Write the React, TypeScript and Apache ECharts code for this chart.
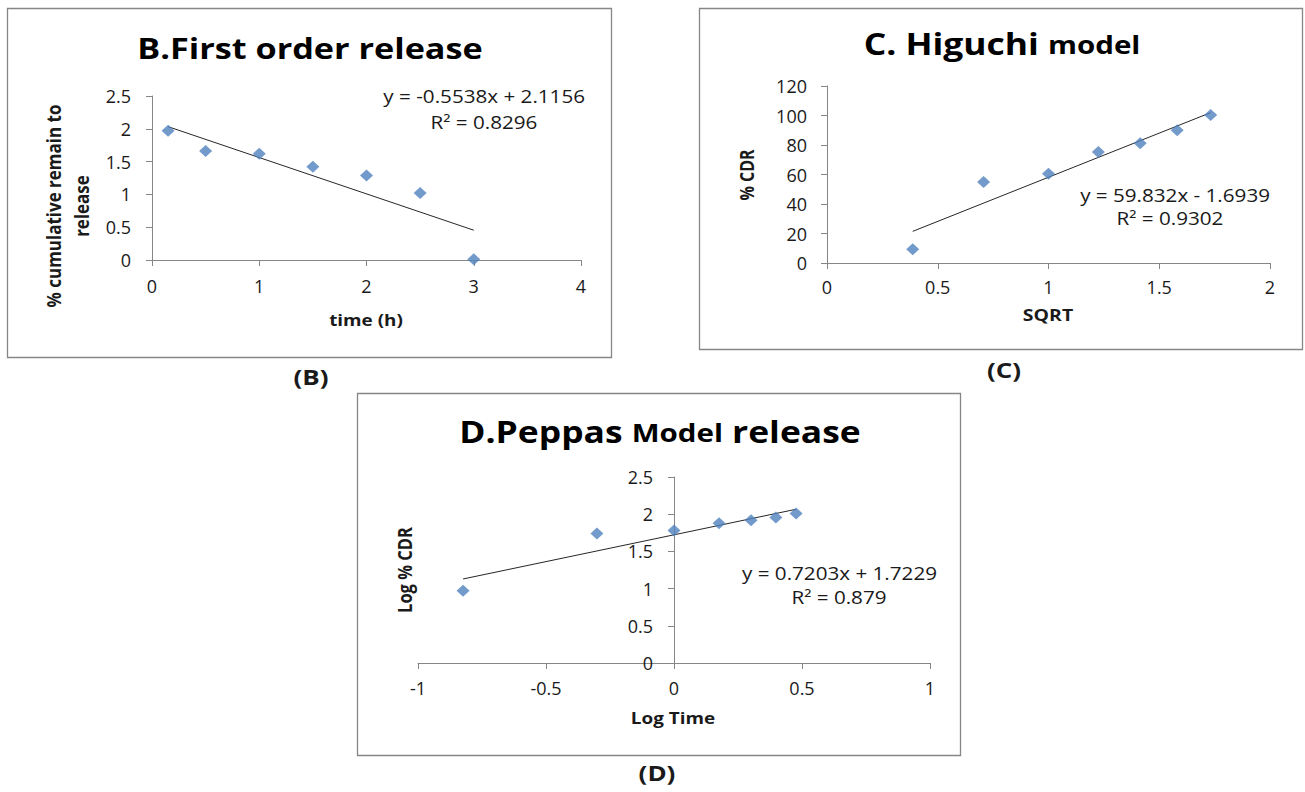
import React, { useEffect, useRef } from "react";
import * as echarts from "echarts";

// ---- Data ----
// B. First order release
const timeH = [0.15, 0.5, 1, 1.5, 2, 2.5, 3];
const logRemain = [1.97, 1.66, 1.62, 1.42, 1.29, 1.02, 0.01];
const fitB = [-0.5538, 2.1156];
const r2B = "0.8296";
const xTicksB = [0, 4, 1];
const yTicksB = [0, 2.5, 0.5];

// C. Higuchi model
const sqrtT = [0.387, 0.707, 1, 1.225, 1.414, 1.581, 1.732];
const cdr = [9.4, 55, 60.5, 75.2, 81.2, 90, 100.3];
const fitC = [59.832, -1.6939];
const r2C = "0.9302";
const xTicksC = [0, 2, 0.5];
const yTicksC = [0, 120, 20];

// D. Peppas model
const logTime = [-0.824, -0.301, 0, 0.176, 0.301, 0.398, 0.477];
const logCdr = [0.97, 1.74, 1.78, 1.88, 1.92, 1.955, 2.01];
const fitD = [0.7203, 1.7229];
const r2D = "0.879";
const xTicksD = [-1, 1, 0.5];
const yTicksD = [0, 2.5, 0.5];

const FONT = '"Open Sans", "Liberation Sans", sans-serif';
const AXIS_COLOR = "#868686";
const TEXT_COLOR = "#1a1a1a";
const MARKER = "#4F81BD";
const SX = 1.18; // horizontal stretch of the reference picture

const GRIDS = [
  { left: 152, top: 96, width: 429, height: 164 },
  { left: 827, top: 86, width: 443, height: 177 },
  { left: 418, top: 477, width: 512, height: 186 },
];

function trend(xs: number[], fit: number[]) {
  const lo = Math.min(...xs);
  const hi = Math.max(...xs);
  return [
    [lo, fit[0] * lo + fit[1]],
    [hi, fit[0] * hi + fit[1]],
  ];
}

function xAxisCfg(idx: number, t: number[], margin: number) {
  return {
    type: "value",
    gridIndex: idx,
    min: t[0],
    max: t[1],
    interval: t[2],
    splitLine: { show: false },
    axisLine: { onZero: false, lineStyle: { color: AXIS_COLOR, width: 1 } },
    axisTick: { show: true, inside: false, length: 6, lineStyle: { color: AXIS_COLOR } },
    axisLabel: { fontFamily: FONT, fontSize: 18, color: TEXT_COLOR, margin },
  };
}

function yAxisCfg(idx: number, t: number[], margin: number, offset = 0) {
  return {
    type: "value",
    gridIndex: idx,
    min: t[0],
    max: t[1],
    interval: t[2],
    offset,
    splitLine: { show: false },
    axisLine: { show: true, onZero: false, lineStyle: { color: AXIS_COLOR, width: 1 } },
    axisTick: { show: true, inside: false, length: 6, lineStyle: { color: AXIS_COLOR } },
    axisLabel: { fontFamily: FONT, fontSize: 18, color: TEXT_COLOR, margin },
  };
}

function scatter(idx: number, xs: number[], ys: number[]) {
  return {
    type: "scatter",
    xAxisIndex: idx,
    yAxisIndex: idx,
    symbol: "diamond",
    symbolSize: [13, 12],
    itemStyle: { color: MARKER },
    data: xs.map((x, i) => [x, ys[i]]),
    z: 3,
  };
}

function line(idx: number, xs: number[], fit: number[]) {
  return {
    type: "line",
    xAxisIndex: idx,
    yAxisIndex: idx,
    symbol: "none",
    lineStyle: { color: "#262626", width: 1 },
    data: trend(xs, fit),
    z: 2,
  };
}

function txt(
  text: string,
  x: number,
  y: number,
  size: number,
  bold: boolean,
  align = "center",
  rotation = 0,
  lineHeight?: number
) {
  return {
    type: "text",
    x,
    y,
    rotation,
    scaleX: rotation ? 1 : SX,
    scaleY: rotation ? SX : 1,
    style: {
      text,
      fill: TEXT_COLOR,
      font: `${bold ? "bold " : ""}${size}px ${FONT}`,
      align,
      verticalAlign: "middle",
      lineHeight: lineHeight || size * 1.2,
    },
  };
}

function richTitle(parts: [string, number][], x: number, y: number) {
  const rich: any = {};
  let text = "";
  parts.forEach((p, i) => {
    rich["s" + i] = { fontFamily: FONT, fontWeight: "bold", fontSize: p[1], fill: "#000" };
    text += `{s${i}|${p[0]}}`;
  });
  return {
    type: "text",
    x,
    y,
    scaleX: SX,
    style: {
      text,
      rich,
      fill: "#000",
      align: "center",
      verticalAlign: "middle",
    },
  };
}

function box(x: number, y: number, w: number, h: number) {
  return {
    type: "rect",
    shape: { x: x + 0.5, y: y + 0.5, width: w, height: h },
    style: { fill: "none", stroke: AXIS_COLOR, lineWidth: 1.3 },
    z: 0,
  };
}

function fmtEq(fit: number[]) {
  const sign = fit[1] < 0 ? "-" : "+";
  return `y = ${fit[0]}x ${sign} ${Math.abs(fit[1])}`;
}

export default function App() {
  const ref = useRef<HTMLDivElement>(null);

  useEffect(() => {
    if (!ref.current) return;
    const chart = echarts.init(ref.current, undefined, { renderer: "svg" });
    const gD = GRIDS[2];
    const offsetD = -gD.width * ((0 - xTicksD[0]) / (xTicksD[1] - xTicksD[0]));
    chart.setOption({
      animation: false,
      backgroundColor: "#ffffff",
      grid: GRIDS,
      xAxis: [xAxisCfg(0, xTicksB, 17), xAxisCfg(1, xTicksC, 15), xAxisCfg(2, xTicksD, 16)],
      yAxis: [yAxisCfg(0, yTicksB, 21), yAxisCfg(1, yTicksC, 20), yAxisCfg(2, yTicksD, 21, offsetD)],
      series: [
        line(0, timeH, fitB),
        scatter(0, timeH, logRemain),
        line(1, sqrtT, fitC),
        scatter(1, sqrtT, cdr),
        line(2, logTime, fitD),
        scatter(2, logTime, logCdr),
      ],
      graphic: [
        box(7, 8, 604, 349),
        box(699, 8, 603, 341),
        box(357, 393, 603, 362),
        // titles
        richTitle([["B.First order release", 29]], 310, 48),
        richTitle([["C. Higuchi ", 30], ["model", 25]], 1002, 44),
        richTitle([["D.Peppas ", 30], ["Model", 25], [" release", 30]], 660, 432),
        // axis names
        txt("time (h)", 366, 320, 16, true),
        txt("% cumulative remain to\nrelease", 67, 206, 17, true, "center", Math.PI / 2, 24),
        txt("SQRT", 1048, 315, 16.5, true),
        txt("% CDR", 746, 175, 16, true, "center", Math.PI / 2),
        txt("Log Time", 673, 718, 16, true),
        txt("Log % CDR", 404, 570, 16.5, true, "center", Math.PI / 2),
        // equations
        txt(fmtEq(fitB), 585, 97, 17.5, false, "right"),
        txt(`R² = ${r2B}`, 484, 123, 17.5, false),
        txt(fmtEq(fitC), 1270, 196, 17.5, false, "right"),
        txt(`R² = ${r2C}`, 1170, 219, 17.5, false),
        txt(fmtEq(fitD), 937, 574, 17.5, false, "right"),
        txt(`R² = ${r2D}`, 839, 598, 17.5, false),
        // captions
        txt("(B)", 311, 376, 22, true),
        txt("(C)", 1004, 369, 22, true),
        txt("(D)", 657, 772, 22, true),
      ],
    });
    return () => chart.dispose();
  }, []);

  return (
    <div
      ref={ref}
      style={{ position: "fixed", left: 0, top: 0, width: 1305, height: 792, background: "#fff" }}
    />
  );
}
